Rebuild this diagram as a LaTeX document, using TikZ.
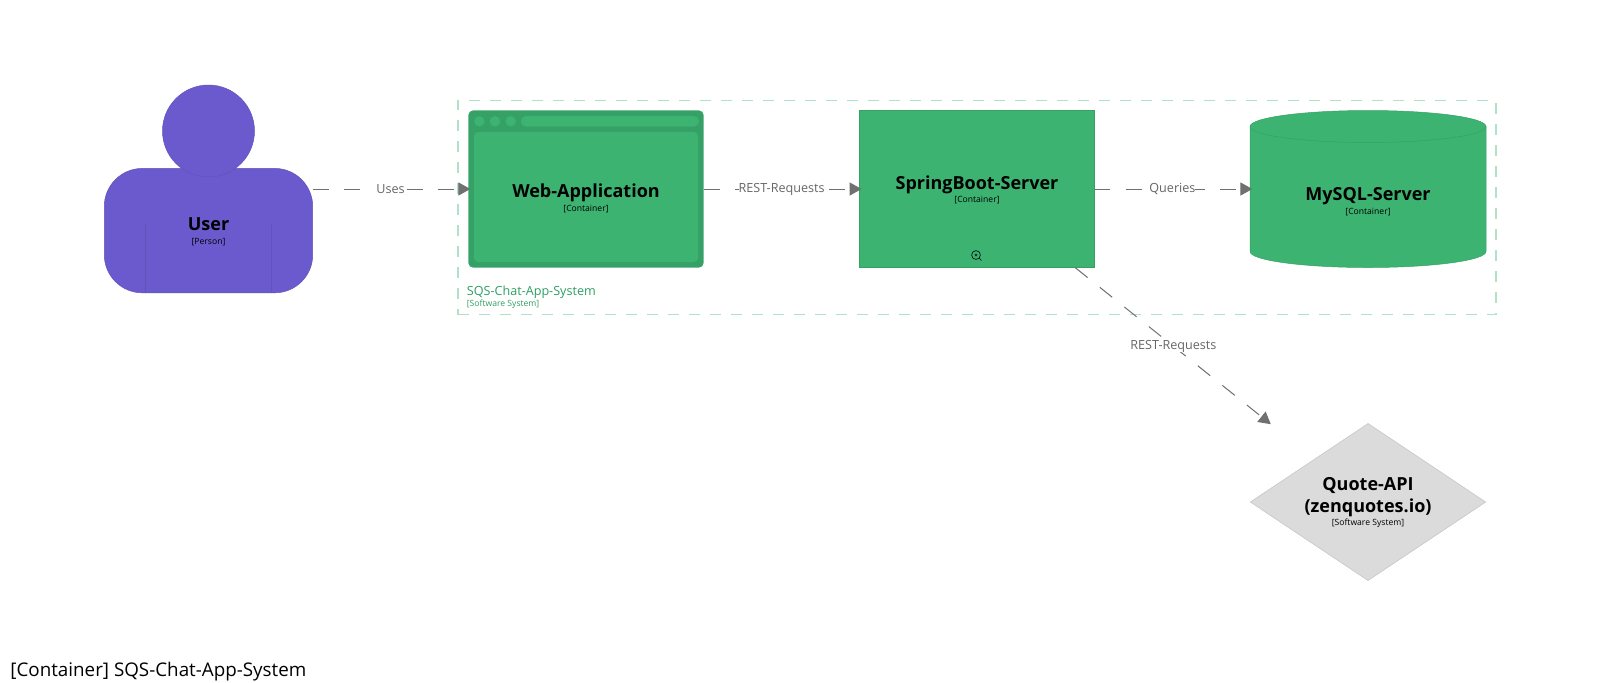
\documentclass[tikz,border=0pt]{standalone}
\usepackage{fontspec}
\setmainfont{Open Sans}
\usetikzlibrary{arrows.meta,shapes.geometric}
\definecolor{personfill}{HTML}{6A5ACD}
\definecolor{personline}{HTML}{6153BC}
\definecolor{containerfill}{HTML}{3CB371}
\definecolor{containerline}{HTML}{36A166}
\definecolor{boundaryline}{HTML}{B1E1C6}
\definecolor{boundarytext}{HTML}{2E9E62}
\definecolor{relline}{HTML}{707070}
\newcommand{\namefont}{\fontsize{9}{11}\selectfont\bfseries}
\newcommand{\tagfont}{\fontsize{4.3}{5.5}\selectfont}
\newcommand{\relfont}{\fontsize{6.3}{8}\selectfont}

\begin{document}
\begin{tikzpicture}[x=0.5pt, y=-0.5pt]
        \tikzstyle{shapenode}=[outer sep=0pt,inner sep=0pt]
        \tikzstyle{person}=[shapenode,rectangle,rounded corners=19pt,fill=personfill,draw=personline,line width=0.25pt,minimum width=104.2pt,minimum height=62.2pt]
        \tikzstyle{head}=[shapenode,circle,fill=personfill,draw=personline,line width=0.25pt,minimum size=46pt]
        \tikzstyle{container}=[shapenode,rectangle,fill=containerfill,draw=containerline,line width=0.25pt,minimum width=117.5pt,minimum height=78.7pt]
        \tikzstyle{browser}=[shapenode,rectangle,rounded corners=2.5pt,fill=containerline,minimum width=117.7pt,minimum height=78.7pt]
        \tikzstyle{pane}=[shapenode,rectangle,rounded corners=2pt,fill=containerfill]
        \tikzstyle{database}=[shapenode,rectangle,minimum width=117.7pt,minimum height=78.7pt]
        \tikzstyle{external}=[shapenode,diamond,aspect=1.5,fill=black!14,draw=black!22,line width=0.3pt,minimum width=117.7pt,minimum height=78.5pt]
        \tikzstyle{boundary}=[shapenode,rectangle,draw=boundaryline,line width=0.6pt,dash pattern=on 5.5pt off 5pt,minimum width=519pt,minimum height=107.2pt]
        \tikzstyle{rel}=[draw=relline,line width=0.5pt,dash pattern=on 7.9pt off 7.8pt,shorten >=-1pt,-{Triangle[length=6pt,width=6.6pt,fill=relline]}]
        \tikzstyle{rellabel}=[fill=white,inner sep=0pt,text=black!60,font=\relfont]
        \tikzstyle{caption}=[align=center,inner sep=0pt,text=black]

        \useasboundingbox (0,0) rectangle (1600,682);

        % system boundary
        \node[boundary] (system) at (977,207.5) {};
        \node[anchor=west,inner sep=0pt,text=boundarytext,font=\relfont] (system_name) at (466.5,292) {SQS-Chat-App-System};
        \node[anchor=west,inner sep=0pt,text=boundarytext,font=\tagfont] (system_tag) at (466.5,304) {[Software System]};

        % person
        \node[person] (user_body) at (208.5,230.6) {};
        \node[head] (user_head) at (208.5,131) {};
        \draw[personline,line width=0.3pt] (145.7,224) coordinate (user_l) -- (user_l |- user_body.south);
        \draw[personline,line width=0.3pt] (271,224) coordinate (user_r) -- (user_r |- user_body.south);
        \node[caption,font=\namefont] (user_name) at (208.5,224) {User};
        \node[caption,font=\tagfont] (user_tag) at (208.5,242) {[Person]};

        % browser
        \node[browser] (web) at (586,189) {};
        \node[pane,minimum width=112pt,minimum height=65pt] (web_pane) at (586,197) {};
        \foreach \x [count=\i] in {479.3,495,510.7} {
            \node[shapenode,circle,fill=containerfill,minimum size=5.2pt] (web_dot_\i) at (\x,121.3) {};
        }
        \node[pane,rounded corners=2.5pt,minimum width=89pt,minimum height=5.2pt] (web_bar) at (610,121.3) {};
        \node[caption,font=\namefont] (web_name) at (586,192.5) {Web-Application};
        \node[caption,font=\tagfont] (web_tag) at (586,209) {[Container]};

        \node[container] (spring) at (977,189) {};
        \node[caption,font=\namefont] (spring_name) at (977,184.5) {SpringBoot-Server};
        \node[caption,font=\tagfont] (spring_tag) at (977,200.5) {[Container]};
        \draw[black,line width=0.3pt] (976,255) circle (2.2pt) (974.6,255) -- (977.4,255) (976,253.6) -- (976,256.4) (979,258) -- (981.5,260.5);

        % database
        \node[database] (mysql) at (1368,189) {};
        \draw[fill=containerfill,draw=containerline,line width=0.25pt] (1250,126.5) arc[start angle=180,end angle=0,x radius=59pt,y radius=8pt] -- (1486,251.5) arc[start angle=0,end angle=-180,x radius=59pt,y radius=8pt] -- cycle;
        \draw[draw=containerline,line width=0.25pt] (1250,126.5) arc[start angle=180,end angle=360,x radius=59pt,y radius=8pt];
        \node[caption,font=\namefont] (mysql_name) at (1368,196) {MySQL-Server};
        \node[caption,font=\tagfont] (mysql_tag) at (1368,212.5) {[Container]};

        \node[external] (quote) at (1368,502) {};
        \node[caption,font=\namefont] (quote_name) at (1368,497.5) {Quote-API\\(zenquotes.io)};
        \node[caption,font=\tagfont] (quote_tag) at (1368,523) {[Software System]};

        \draw[rel] (user_body.east |- web) -- (web) node[midway,rellabel] {Uses};
        \draw[rel] (web) -- (spring) node[midway,rellabel] {REST-Requests};
        \draw[rel] (spring) -- (mysql) node[midway,rellabel] {Queries};
        \draw[rel,shorten >=28pt] (spring) -- (quote) node[pos=0.41,rellabel] {REST-Requests};

        \node[anchor=west,inner sep=0pt,text=black,font=\fontsize{9.4}{11}\selectfont] (title) at (10,672) {[Container] SQS-Chat-App-System};
\end{tikzpicture}
\end{document}
